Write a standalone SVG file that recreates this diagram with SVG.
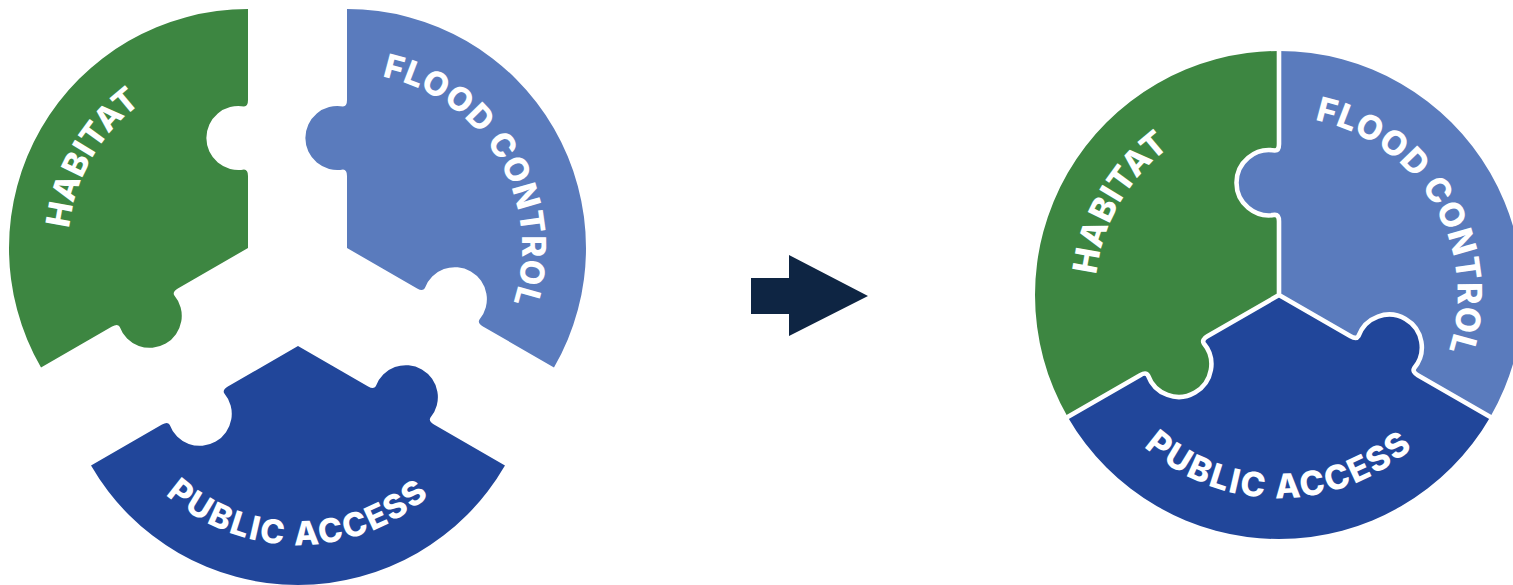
<svg xmlns="http://www.w3.org/2000/svg" xmlns:xlink="http://www.w3.org/1999/xlink" width="1513" height="585" viewBox="0 0 1513 585">
  <style>
    .green { fill: #3d8641; }
    .light { fill: #5a7bbd; }
    .dark { fill: #21469a; }
    .lbl { fill: #ffffff; font-family: Inter, "Liberation Sans", sans-serif; font-weight: 800; font-style: normal; font-size: 33px; letter-spacing: 0.5px; }
    .lblf { letter-spacing: 1px; }
    .lblb { letter-spacing: 2px; }
    .sep { fill: none; stroke: #ffffff; stroke-width: 4.5; stroke-linejoin: round; }
    .arrow { fill: #0e2543; }
  </style>
  <defs>
    <path id="pGreen" d="M 0,0 L -70.15,40.5 Q -75.78,43.75 -73.78,47.21 A 32 32 0 1 1 -128.34,78.71 Q -130.34,75.25 -135.97,78.5 L -206.98,119.5 A 239 239 0 0 1 0,-239 L 0,-148 Q 0,-141.5 -4,-141.5 A 32 32 0 1 0 -4,-78.5 Q 0,-78.5 0,-72 Z"/>
    <path id="pLight" d="M 0,0 L 0,-72 Q 0,-78.5 -4,-78.5 A 32 32 0 1 1 -4,-141.5 Q 0,-141.5 0,-148 L 0,-239 A 239 239 0 0 1 206.98,119.5 L 135.97,78.5 Q 130.34,75.25 132.34,71.79 A 32 32 0 1 0 77.78,40.29 Q 75.78,43.75 70.15,40.5 Z"/>
    <path id="pDark" d="M 0,0 L 70.15,40.5 Q 75.78,43.75 77.78,40.29 A 32 32 0 1 1 132.34,71.79 Q 130.34,75.25 135.97,78.5 L 206.98,119.5 A 239 239 0 0 1 -206.98,119.5 L -135.97,78.5 Q -130.34,75.25 -128.34,78.71 A 32 32 0 1 0 -73.78,47.21 Q -75.78,43.75 -70.15,40.5 Z"/>
    <path id="arcGreen" d="M -155.88,90 A 180 180 0 0 1 0,-180"/>
    <path id="arcLight" d="M 0,-175 A 175 175 0 0 1 151.55,87.5"/>
    <path id="arcDark" d="M -172.34,99.5 A 199 199 0 0 0 172.34,99.5"/>
  </defs>

  <g id="exploded">
    <g id="habitat-piece" transform="translate(248,248)">
      <use href="#pGreen" class="green"/>
      <text class="lbl"><textPath href="#arcGreen" startOffset="50%" text-anchor="middle">HABITAT</textPath></text>
    </g>
    <g id="flood-control-piece" transform="translate(347,248)">
      <use href="#pLight" class="light"/>
      <text class="lbl lblf"><textPath href="#arcLight" startOffset="50%" text-anchor="middle">FLOOD CONTROL</textPath></text>
    </g>
    <g id="public-access-piece" transform="translate(298,346)">
      <use href="#pDark" class="dark"/>
      <text class="lbl lblb"><textPath href="#arcDark" startOffset="50%" text-anchor="middle">PUBLIC ACCESS</textPath></text>
    </g>
  </g>

  <g id="connectors">
    <polygon class="arrow" points="751,278 789,278 789,255 868,296 789,336 789,314 751,314"/>
  </g>

  <g id="assembled" transform="translate(1279,295) scale(1.0209)">
    <g id="habitat-assembled">
      <use href="#pGreen" class="green"/>
      <text class="lbl"><textPath href="#arcGreen" startOffset="50%" text-anchor="middle">HABITAT</textPath></text>
    </g>
    <g id="flood-control-assembled">
      <use href="#pLight" class="light"/>
      <text class="lbl lblf"><textPath href="#arcLight" startOffset="50%" text-anchor="middle">FLOOD CONTROL</textPath></text>
    </g>
    <g id="public-access-assembled">
      <use href="#pDark" class="dark"/>
      <text class="lbl lblb"><textPath href="#arcDark" startOffset="50%" text-anchor="middle">PUBLIC ACCESS</textPath></text>
    </g>
    <path id="seams" class="sep" d="M 0,0 L 0,-72 Q 0,-78.5 -4,-78.5 A 32 32 0 1 1 -4,-141.5 Q 0,-141.5 0,-148 L 0,-242 M 0,0 L -70.15,40.5 Q -75.78,43.75 -73.78,47.21 A 32 32 0 1 1 -128.34,78.71 Q -130.34,75.25 -135.97,78.5 L -209.6,121 M 0,0 L 70.15,40.5 Q 75.78,43.75 77.78,40.29 A 32 32 0 1 1 132.34,71.79 Q 130.34,75.25 135.97,78.5 L 209.6,121"/>
  </g>
</svg>
